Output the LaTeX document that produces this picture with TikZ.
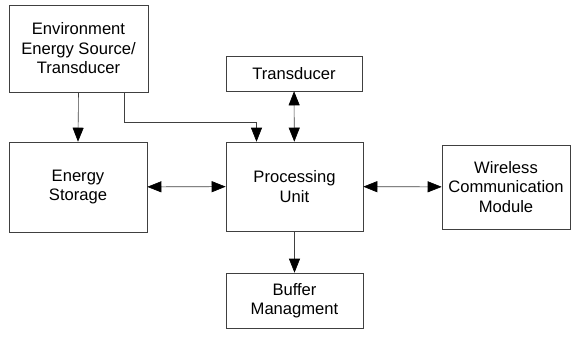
\documentclass[tikz,border=0pt]{standalone}
\usepackage{fontspec}
\setmainfont{Liberation Sans}
\usetikzlibrary{arrows.meta}

\tikzset{
  tip/.tip={Triangle[length=14pt,width=11pt,fill=black,color=black]},
}

\begin{document}
\begin{tikzpicture}[x=1pt,y=-1pt,semithick,draw=black!75,
                    one/.style={-tip},
                    both/.style={tip-tip},
                    block/.style={rectangle,draw=black!75,fill=white,align=center,
                      inner sep=2pt,font=\fontsize{16.6}{19.5}\selectfont}]
  \useasboundingbox (0,0) rectangle (572,340);

  \node[block,minimum width=139pt,minimum height=87pt] (env) at (78.5,48.5)
    {Environment\\Energy Source/\\Transducer};
  \node[block,minimum width=138pt,minimum height=90pt] (storage) at (78,187)
    {Energy\\Storage};
  \node[block,minimum width=136pt,minimum height=35pt] (trans) at (294,73.5)
    {Transducer};
  \node[block,minimum width=137pt,minimum height=89pt] (pu) at (294.5,186.5)
    {Processing\\Unit};
  \node[block,minimum width=128pt,minimum height=84pt] (wcm) at (506,187)
    {Wireless\\Communication\\Module};
  \node[block,minimum width=137pt,minimum height=55pt] (buf) at (294.5,300.5)
    {Buffer\\Managment};

  \coordinate (bend) at (124,122);

  \draw[one] (env.south) -- (storage.north);
  \draw[both] (trans) -- (pu);
  \draw[both] (storage) -- (pu);
  \draw[both] (pu) -- (wcm);
  \draw[one] (pu) -- (buf);
  \draw[one] (env.south -| bend) |- (bend) -| ([xshift=-38pt]pu.north);
\end{tikzpicture}
\end{document}
